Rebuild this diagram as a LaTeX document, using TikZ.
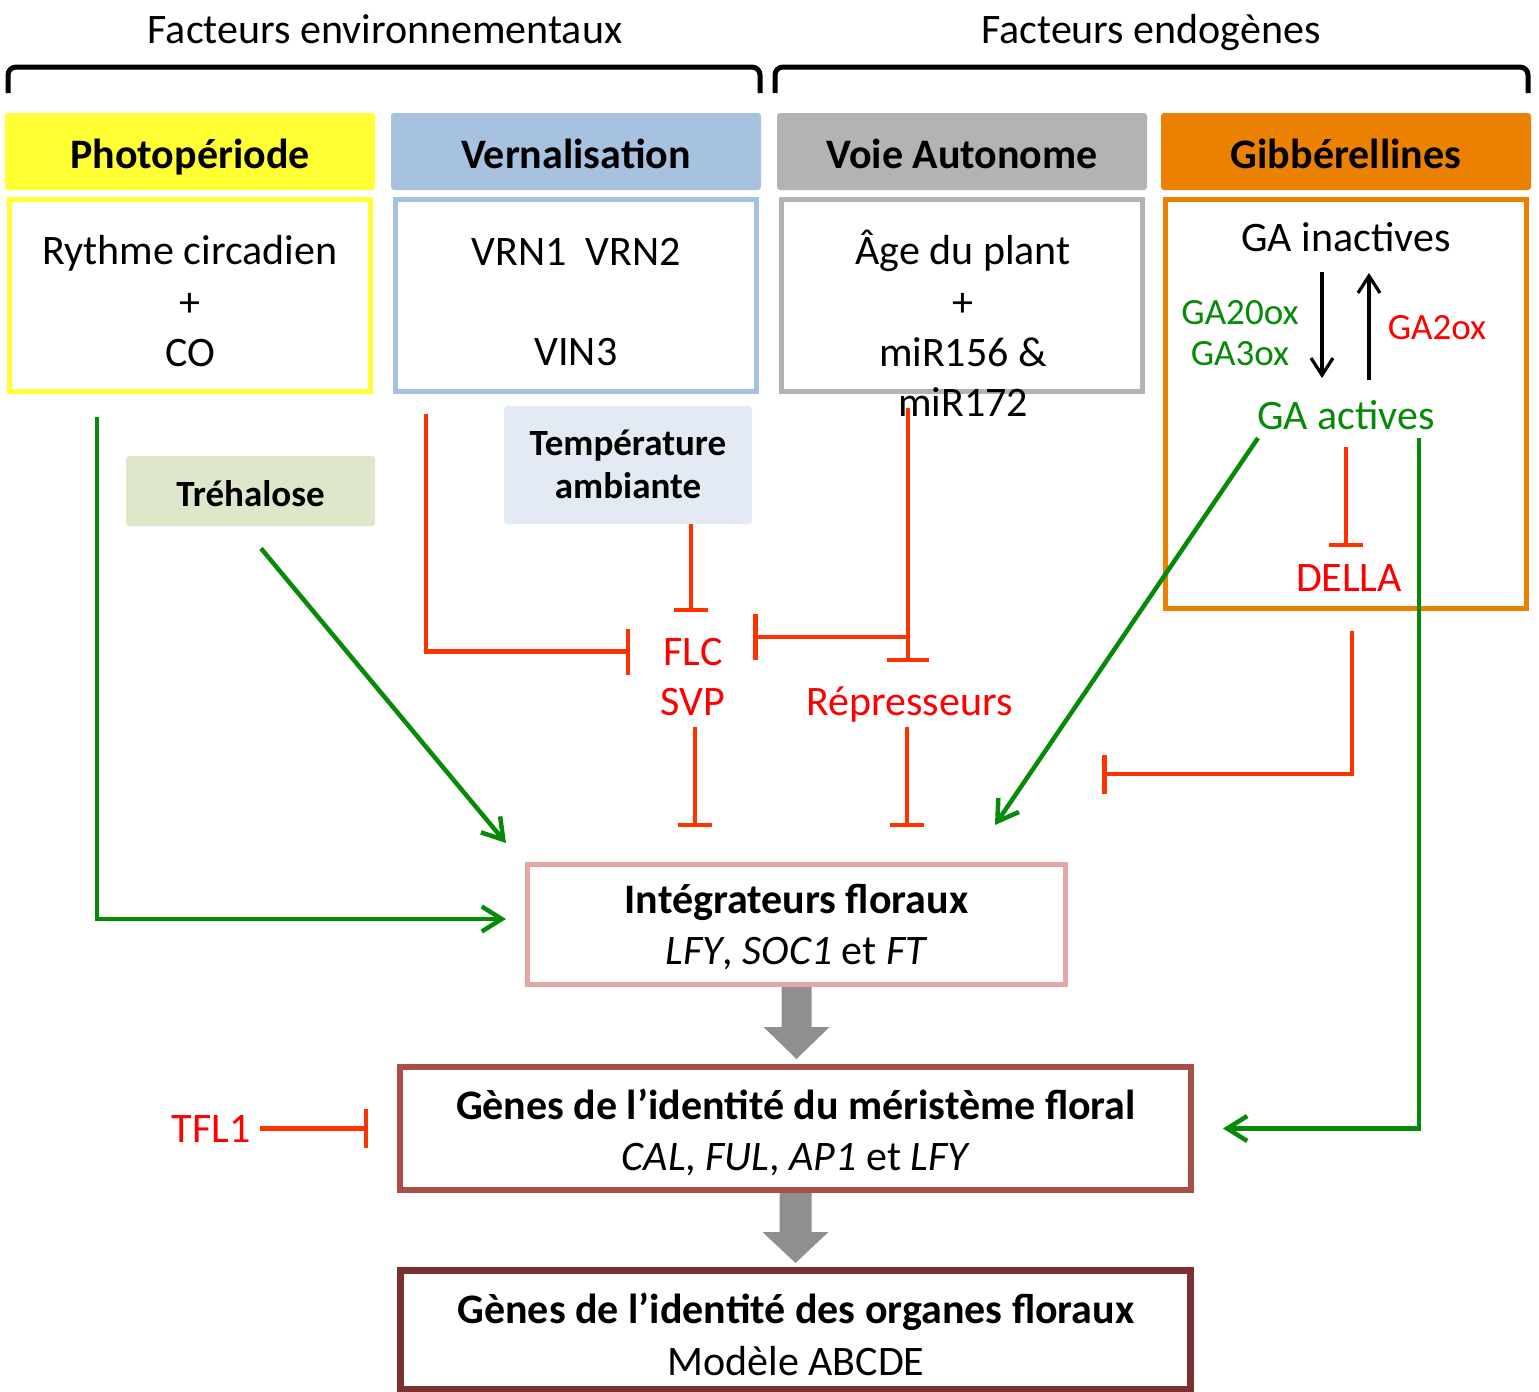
\documentclass[tikz,border=0pt]{standalone}
\usepackage{fontspec}
\setmainfont{Carlito}
\usetikzlibrary{arrows.meta}
\definecolor{cYel}{HTML}{FFFF33}
\definecolor{cBlue}{HTML}{A7C2E0}
\definecolor{cGray}{HTML}{B3B3B3}
\definecolor{cOrange}{HTML}{EC8000}
\definecolor{cTreh}{HTML}{DEE7CA}
\definecolor{cTemp}{HTML}{E3EAF4}
\definecolor{cPink}{HTML}{E2A8A8}
\definecolor{cMer}{HTML}{AA4E48}
\definecolor{cOrg}{HTML}{7A3131}
\definecolor{cArr}{HTML}{8F8F8F}
\definecolor{cRedL}{HTML}{FF3300}
\definecolor{cRedT}{HTML}{FF0000}
\definecolor{cGreen}{HTML}{078A07}
\begin{document}
\begin{tikzpicture}[x=0.5pt,y=-0.5pt,
  fbig/.style={font=\fontsize{21}{25}\selectfont},
  fsmall/.style={font=\fontsize{18.5}{22}\selectfont},
  txt/.style={inner sep=0pt, outer sep=0pt, text height=13.5pt, text depth=0pt, fbig},
  stxt/.style={inner sep=0pt, outer sep=0pt, text height=11.9pt, text depth=0pt, fsmall},
  hdr/.style={rectangle, rounded corners=1.5pt, minimum width=185pt, minimum height=38.5pt,
    inner sep=0pt, text height=17pt, text depth=0pt, font=\fontsize{21}{25}\selectfont\bfseries},
  cbox/.style={rectangle, line width=2.5pt, minimum width=180.5pt, minimum height=96pt, inner sep=0pt},
  fbox/.style={rectangle, rounded corners=1.5pt, inner sep=0pt},
  inh/.style={draw=cRedL, line width=2.25pt, -{Bar[width=#1]}},
  act/.style={draw=cGreen, line width=2.25pt, -{Straight Barb[length=10pt,width=12.5pt]}},
  blk/.style={draw=black, line width=1.6pt, -{Straight Barb[length=8.5pt,width=11pt]}},
  brace/.style={draw=black, line width=2.5pt, rounded corners=4pt},
]
\useasboundingbox (0,0) rectangle (1539,1392);

% titles and braces
\node[txt] (envt) at (385,29.5) {Facteurs environnementaux};
\node[txt] (endo) at (1151,29.5) {Facteurs endogènes};
\draw[brace] (8,93) -- (8,67) -- (760,67) -- (760,93);
\draw[brace] (775,93) -- (775,67) -- (1528,67) -- (1528,93);

% headers
\node[hdr, fill=cYel] (hPhoto) at (190,151.5) {Photopériode};
\node[hdr, fill=cBlue] (hVern) at (576,151.5) {Vernalisation};
\node[hdr, fill=cGray] (hVoie) at (962,151.5) {Voie Autonome};
\node[hdr, fill=cOrange] (hGib) at (1346,151.5) {Gibbérellines};

% content boxes
\node[cbox, draw=cYel] (rythC) at (190,295) {};
\node[cbox, draw=cBlue] (vernC) at (576,295) {};
\node[cbox, draw=cGray] (voieC) at (962,295) {};
\node[cbox, draw=cOrange, minimum height=204.5pt] (gibC) at (1346,404) {};

\node[txt] (tRyth) at (190,251) {Rythme circadien};
\node[txt] (tPlusA) at (190,303) {+};
\node[txt] (tCO) at (190,353) {CO};
\node[txt] (tVRN) at (576,252) {VRN1\ \ VRN2};
\node[txt] (tVIN) at (576,352) {VIN3};
\node[txt] (tAge) at (963,251) {Âge du plant};
\node[txt] (tPlusB) at (963,303) {+};
\node[txt] (tMirA) at (963,353) {miR156 \&};
\node[txt] (tMirB) at (963,403) {miR172};

\node[txt] (gaIn) at (1346,237.5) {GA inactives};
\node[stxt, text=cGreen] (ga20) at (1240,312.5) {GA20ox};
\node[stxt, text=cGreen] (ga3) at (1240,354) {GA3ox};
\node[stxt, text=cRedT] (ga2) at (1437,328) {GA2ox};
\node[txt, text=cGreen] (gaAct) at (1346,415.5) {GA actives};
\node[txt, text=cRedT] (della) at (1349,577.5) {DELLA};

% side factors
\node[fbox, fill=cTreh, minimum width=124.5pt, minimum height=35pt, text height=15.4pt, text depth=0pt,
  font=\fontsize{18.5}{22}\selectfont\bfseries] (treh) at (250.5,491) {Tréhalose};
\node[fbox, fill=cTemp, minimum width=124pt, minimum height=59pt] (temp) at (628,465) {};
\node[stxt, font=\fontsize{18.5}{22}\selectfont\bfseries] (tTempA) at (628,443.5) {Température};
\node[stxt, font=\fontsize{18.5}{22}\selectfont\bfseries] (tTempB) at (628,487) {ambiante};

% repressors
\node[txt, text=cRedT] (flc) at (693,651.5) {FLC};
\node[txt, text=cRedT] (svp) at (692.5,701.5) {SVP};
\node[txt, text=cRedT] (rep) at (909.5,702) {Répresseurs};
\node[txt, text=cRedT] (tfl) at (211,1128.5) {TFL1};

% lower boxes
\node[rectangle, draw=cPink, line width=2.5pt, minimum width=269pt, minimum height=60pt] (integ) at (796.5,924.5) {};
\node[txt, font=\fontsize{21}{25}\selectfont\bfseries] (tIntA) at (796.5,900) {Intégrateurs floraux};
\node[txt] (tIntB) at (796.5,951) {\textit{LFY}, \textit{SOC1} et \textit{FT}};

\node[rectangle, draw=cMer, line width=3pt, minimum width=395.5pt, minimum height=61.5pt] (merist) at (795.5,1128.5) {};
\node[txt, font=\fontsize{21}{25}\selectfont\bfseries] (tMerA) at (796,1106) {Gènes de l’identité du méristème floral};
\node[txt] (tMerB) at (796,1157) {\textit{CAL}, \textit{FUL}, \textit{AP1} et \textit{LFY}};

\node[rectangle, draw=cOrg, line width=3.5pt, minimum width=395pt, minimum height=59.25pt] (organ) at (795.5,1330) {};
\node[txt, font=\fontsize{21}{25}\selectfont\bfseries] (tOrgA) at (796,1310) {Gènes de l’identité des organes floraux};
\node[txt] (tOrgB) at (796,1361.5) {Modèle ABCDE};

% block arrows
\fill[cArr, shift={(integ.south)}] (-15,0) -- (-15,40) -- (-33,40) -- (0,72) -- (33,40) -- (15,40) -- (15,0) -- cycle;
\fill[cArr, shift={(merist.south)}] (-16,0) -- (-16,39) -- (-33,39) -- (0,70) -- (33,39) -- (16,39) -- (16,0) -- cycle;

% GA conversion arrows
\draw[blk] ([xshift=-12pt,yshift=-17.25pt]gaIn.center) -- ([xshift=-12pt,yshift=18.75pt]gaAct.center);
\draw[blk] ([xshift=11.5pt,yshift=17.75pt]gaAct.center) -- ([xshift=11.5pt,yshift=-17.75pt]gaIn.center);

% inhibitions
\draw[inh=23pt] ([xshift=-75pt,yshift=-10pt]vernC.south) |- ([xshift=-31.5pt]flc.center);
\draw[inh=17pt] ([xshift=31.5pt]temp.south) -- ([xshift=-1pt,yshift=19.75pt]flc.center);
\draw[inh=21pt] ([xshift=-27pt,yshift=-7.25pt]voieC.south) -- ([xshift=-0.75pt,yshift=20pt]rep.center);
\draw[inh=23pt] ([xshift=0.25pt,yshift=32.5pt]rep.center) -- ([xshift=30pt,yshift=7.25pt]flc.center);
\draw[inh=17pt] ([xshift=1.25pt,yshift=-12.75pt]svp.center) -- ([xshift=-50.75pt,yshift=17.5pt]integ.north);
\draw[inh=17pt] ([xshift=-1.25pt,yshift=-12.5pt]rep.center) -- ([xshift=55.25pt,yshift=17.5pt]integ.north);
\draw[inh=19.5pt] ([xshift=3pt,yshift=-10pt]gibC.south) |- ([xshift=17pt,yshift=75.25pt]integ.east);
\draw[inh=17pt] ([yshift=-15.75pt]gaAct.center) -- ([xshift=-1.5pt,yshift=15.25pt]della.center);
\draw[inh=19.5pt] ([xshift=24.5pt]tfl.center) -- ([xshift=-14.5pt]merist.west);

% activations
\draw[act] ([xshift=-46.5pt,yshift=-11.75pt]rythC.south) |- ([xshift=-9.5pt,yshift=2.75pt]integ.west);
\draw[act] ([xshift=5.25pt,yshift=-11pt]treh.south) -- ([xshift=-9.5pt,yshift=9.5pt]integ.north west);
\draw[act] ([xshift=-44pt,yshift=-11.25pt]gaAct.center) -- ([xshift=-36.5pt,yshift=18.5pt]integ.north east);
\draw[act] ([xshift=36.5pt,yshift=-11.25pt]gaAct.center) |- ([xshift=14.5pt]merist.east);
\end{tikzpicture}
\end{document}
